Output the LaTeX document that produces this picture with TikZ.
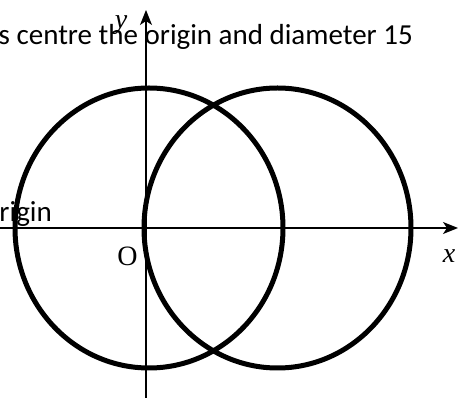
\documentclass[tikz,border=0pt]{standalone}
\usepackage{fontspec}
\setmainfont{Carlito}
\newfontfamily\labelfont{Liberation Serif}
\usepackage{tikz}
\usetikzlibrary{positioning}
\usetikzlibrary{arrows.meta}

\begin{document}
\begin{tikzpicture}[x=1pt,y=1pt]
    \tikzset{
    axis/.style={
        line width=1.6pt,
        -{Stealth[length=15pt,width=12pt,inset=4pt]}
    },
    ring/.style={
        line width=5pt
    },
    caption/.style={
        font=\fontsize{29}{33}\selectfont,
        inner sep=0pt
    },
    axislabel/.style={
        font=\labelfont\fontsize{28}{32}\selectfont,
        inner sep=0pt
    }
}
        \useasboundingbox (-146,-170) rectangle (320,228);

        % axes
        \coordinate (O) at (0,0);
        \coordinate (xstart) at (-146,0);
        \coordinate (xend) at (312,0);
        \coordinate (ystart) at (0,-170);
        \coordinate (yend) at (0,218);

        % text behind the picture
        \node[caption, anchor=base east] (title) at (267,183) {s centre the origin and diameter 15};
        \node[caption, anchor=base east] (origin) at (-94,6) {rigin};

        \draw [axis] (xstart) -- (xend);
        \draw [axis] (ystart) -- (yend);

        % the two circles
        \coordinate (left) at (3,0);
        \coordinate (right) at (131.5,0);
        \draw [ring] (left) ellipse [x radius=134, y radius=140];
        \draw [ring] (right) ellipse [x radius=133.5, y radius=140];

        \node[axislabel, anchor=base] (xlabel) at (303,-35) {\itshape x};
        \node[axislabel, anchor=base] (ylabel) at (-25,199) {\itshape y};
        \node[axislabel, anchor=base] (olabel) at (-18.5,-38) {O};
    \end{tikzpicture}
\end{document}
